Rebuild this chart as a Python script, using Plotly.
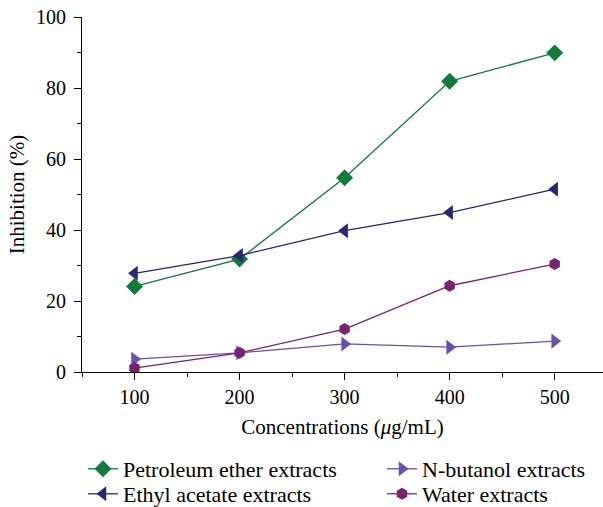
import plotly.graph_objects as go

conc = [100, 200, 300, 400, 500]
petroleum = [24.1, 31.8, 54.7, 81.9, 89.9]
ethyl = [27.8, 32.8, 39.8, 44.9, 51.5]
butanol = [3.6, 5.4, 7.9, 7.0, 8.7]
water = [1.1, 5.4, 12.1, 24.3, 30.4]

FONT = "'Liberation Serif', 'Times New Roman', 'DejaVu Serif', serif"
fig = go.Figure()

def add(name, y, color, symbol, size, legend):
    fig.add_trace(go.Scatter(
        x=conc, y=y, name=name, mode="lines+markers",
        line=dict(color=color, width=1.3),
        marker=dict(symbol=symbol, size=size, color=color),
        legend=legend,
    ))

add("Petroleum ether extracts", petroleum, "#127a3e", "diamond", 13, "legend")
add("Ethyl acetate extracts", ethyl, "#252873", "triangle-left", 13, "legend2")
add("N-butanol extracts", butanol, "#6a50ae", "triangle-right", 13, "legend3")
add("Water extracts", water, "#7a2372", "hexagon", 12, "legend4")

axis_common = dict(
    showline=True, linecolor="black", linewidth=1.2, showgrid=False, zeroline=False,
    ticks="outside", ticklen=7, tickwidth=1.2, tickcolor="black",
    tickfont=dict(family=FONT, size=20, color="black"),
    title_font=dict(family=FONT, size=21, color="black"),
)

fig.update_xaxes(
    range=[50, 546], tick0=100, dtick=100,
    minor=dict(dtick=50, tick0=50, ticks="outside", ticklen=4, tickwidth=1.2, tickcolor="black"),
    title_text="Concentrations (<i>μ</i>g/mL)", title_standoff=12,
    **axis_common,
)
fig.update_yaxes(
    range=[0, 100], tick0=0, dtick=20,
    minor=dict(dtick=10, ticks="outside", ticklen=4, tickwidth=1.2, tickcolor="black"),
    title_text="Inhibition (%)", title_standoff=5, ticklabelstandoff=4,
    **axis_common,
)

W, H = 603, 507
ML, MT, MB = 82, 17, 135
plot_h = H - MT - MB
plot_w = W - ML

def px_x(x):
    return (x - ML) / plot_w

def px_y(y):
    return (H - MB - y) / plot_h

legend_common = dict(
    orientation="v", bgcolor="rgba(0,0,0,0)", borderwidth=0,
    font=dict(family=FONT, size=22, color="black"),
    xanchor="left", yanchor="middle", xref="paper", yref="paper",
    tracegroupgap=0, itemwidth=30,
)

fig.update_layout(
    width=W, height=H,
    margin=dict(l=ML, r=0, t=MT, b=MB, autoexpand=False),
    paper_bgcolor="white", plot_bgcolor="white",
    font=dict(family=FONT, size=20, color="black"),
    showlegend=True,
    legend=dict(x=px_x(83), y=px_y(469), **legend_common),
    legend2=dict(x=px_x(83), y=px_y(494), **legend_common),
    legend3=dict(x=px_x(382), y=px_y(469), **legend_common),
    legend4=dict(x=px_x(382), y=px_y(494), **legend_common),
)

fig.write_html(
    "out.html",
    config={"displayModeBar": False},
    post_script="document.body.style.margin='0';document.body.style.overflow='hidden';",
)
